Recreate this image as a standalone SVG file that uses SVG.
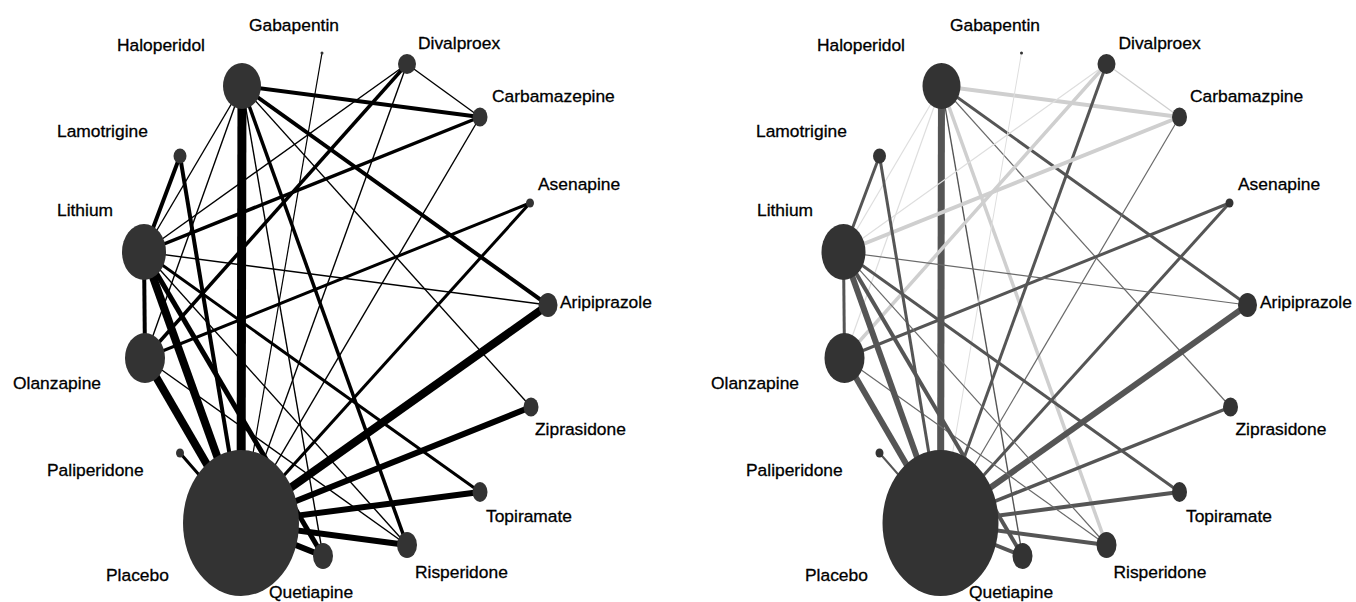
<svg xmlns="http://www.w3.org/2000/svg" width="1356" height="602" viewBox="0 0 1356 602">
<style>
.n{fill:#333}
.e line{stroke-linecap:butt}
.t{font-family:"Liberation Sans",Arial,sans-serif;font-size:17.4px;fill:#000;stroke:#000;stroke-width:0.3}
.L line{stroke:#000}
.k1{stroke:#555}
.k2{stroke:#6a6a6a}
.k3{stroke:#cfcfcf}
.k4{stroke:#dedede}
</style>
<rect width="1356" height="602" fill="#fff"/>
<!-- LEFT PANEL -->
<g id="left-connectors" class="e L">
<line x1="242" y1="86" x2="241" y2="523" stroke-width="9"/>
<line x1="242" y1="86" x2="480" y2="117" stroke-width="4"/>
<line x1="242" y1="86" x2="548" y2="305" stroke-width="4"/>
<line x1="242" y1="86" x2="531" y2="407" stroke-width="1.4"/>
<line x1="242" y1="86" x2="407" y2="545" stroke-width="3.5"/>
<line x1="242" y1="86" x2="323" y2="556" stroke-width="1.4"/>
<line x1="242" y1="86" x2="144" y2="252" stroke-width="1.4"/>
<line x1="242" y1="86" x2="145" y2="358" stroke-width="1.4"/>
<line x1="322" y1="53" x2="241" y2="523" stroke-width="1.2"/>
<line x1="407" y1="64" x2="480" y2="117" stroke-width="1.4"/>
<line x1="407" y1="64" x2="144" y2="252" stroke-width="1.4"/>
<line x1="407" y1="64" x2="145" y2="358" stroke-width="3.5"/>
<line x1="407" y1="64" x2="241" y2="523" stroke-width="1.4"/>
<line x1="480" y1="117" x2="144" y2="252" stroke-width="3.5"/>
<line x1="480" y1="117" x2="241" y2="523" stroke-width="1.4"/>
<line x1="530" y1="203" x2="145" y2="358" stroke-width="3"/>
<line x1="530" y1="203" x2="241" y2="523" stroke-width="3"/>
<line x1="548" y1="305" x2="144" y2="252" stroke-width="1.4"/>
<line x1="548" y1="305" x2="241" y2="523" stroke-width="8"/>
<line x1="531" y1="407" x2="241" y2="523" stroke-width="6"/>
<line x1="480" y1="492" x2="144" y2="252" stroke-width="3"/>
<line x1="480" y1="492" x2="241" y2="523" stroke-width="6"/>
<line x1="407" y1="545" x2="241" y2="523" stroke-width="6"/>
<line x1="407" y1="545" x2="144" y2="252" stroke-width="1.4"/>
<line x1="407" y1="545" x2="145" y2="358" stroke-width="1.4"/>
<line x1="323" y1="556" x2="241" y2="523" stroke-width="6"/>
<line x1="323" y1="556" x2="144" y2="252" stroke-width="5"/>
<line x1="180" y1="453" x2="241" y2="523" stroke-width="3"/>
<line x1="145" y1="358" x2="241" y2="523" stroke-width="8"/>
<line x1="144" y1="252" x2="241" y2="523" stroke-width="8"/>
<line x1="144" y1="252" x2="145" y2="358" stroke-width="4"/>
<line x1="180" y1="156" x2="144" y2="252" stroke-width="4"/>
<line x1="180" y1="156" x2="241" y2="523" stroke-width="4"/>
</g>
<g id="L-haloperidol"><ellipse class="n" cx="242" cy="86" rx="19" ry="23"/><text class="t" x="117" y="51">Haloperidol</text></g>
<g id="L-gabapentin"><circle class="n" cx="322" cy="53" r="1.5"/><text class="t" x="249" y="31">Gabapentin</text></g>
<g id="L-divalproex"><ellipse class="n" cx="407" cy="64" rx="9" ry="10"/><text class="t" x="418" y="49">Divalproex</text></g>
<g id="L-carbamazepine"><ellipse class="n" cx="480" cy="117" rx="7.5" ry="9.5"/><text class="t" x="492" y="102">Carbamazepine</text></g>
<g id="L-asenapine"><ellipse class="n" cx="530" cy="203" rx="4" ry="4.5"/><text class="t" x="538" y="190">Asenapine</text></g>
<g id="L-aripiprazole"><ellipse class="n" cx="548" cy="305" rx="9.5" ry="12"/><text class="t" x="560" y="308">Aripiprazole</text></g>
<g id="L-ziprasidone"><ellipse class="n" cx="531" cy="407" rx="7.5" ry="9.5"/><text class="t" x="535" y="435">Ziprasidone</text></g>
<g id="L-topiramate"><ellipse class="n" cx="480" cy="492" rx="7.5" ry="10"/><text class="t" x="486" y="522">Topiramate</text></g>
<g id="L-risperidone"><ellipse class="n" cx="407" cy="545" rx="10" ry="13"/><text class="t" x="415" y="578">Risperidone</text></g>
<g id="L-quetiapine"><ellipse class="n" cx="323" cy="556" rx="10" ry="13"/><text class="t" x="269" y="598">Quetiapine</text></g>
<g id="L-placebo"><ellipse class="n" cx="241" cy="523" rx="58" ry="73"/><text class="t" x="106" y="581">Placebo</text></g>
<g id="L-paliperidone"><ellipse class="n" cx="180" cy="453" rx="4" ry="4.5"/><text class="t" x="47" y="476">Paliperidone</text></g>
<g id="L-olanzapine"><ellipse class="n" cx="145" cy="358" rx="20" ry="25"/><text class="t" x="13" y="389">Olanzapine</text></g>
<g id="L-lithium"><ellipse class="n" cx="144" cy="252" rx="22" ry="28"/><text class="t" x="57" y="216">Lithium</text></g>
<g id="L-lamotrigine"><ellipse class="n" cx="180" cy="156" rx="6.5" ry="7.5"/><text class="t" x="57" y="137">Lamotrigine</text></g>
<!-- RIGHT PANEL -->
<g transform="translate(699.5,0)">
<g id="right-connectors" class="e">
<line class="k1" x1="242" y1="86" x2="241" y2="523" stroke-width="7"/>
<line class="k3" x1="242" y1="86" x2="480" y2="117" stroke-width="4"/>
<line class="k1" x1="242" y1="86" x2="548" y2="305" stroke-width="3"/>
<line class="k2" x1="242" y1="86" x2="531" y2="407" stroke-width="1.2"/>
<line class="k3" x1="242" y1="86" x2="407" y2="545" stroke-width="3.5"/>
<line class="k1" x1="242" y1="86" x2="323" y2="556" stroke-width="1.4"/>
<line class="k4" x1="242" y1="86" x2="144" y2="252" stroke-width="1.2"/>
<line class="k4" x1="242" y1="86" x2="145" y2="358" stroke-width="1.2"/>
<line class="k4" x1="322" y1="53" x2="241" y2="523" stroke-width="1"/>
<line class="k3" x1="407" y1="64" x2="480" y2="117" stroke-width="1.2"/>
<line class="k4" x1="407" y1="64" x2="144" y2="252" stroke-width="1.2"/>
<line class="k3" x1="407" y1="64" x2="145" y2="358" stroke-width="3.5"/>
<line class="k1" x1="407" y1="64" x2="241" y2="523" stroke-width="3"/>
<line class="k3" x1="480" y1="117" x2="144" y2="252" stroke-width="4"/>
<line class="k2" x1="480" y1="117" x2="241" y2="523" stroke-width="1.2"/>
<line class="k1" x1="530" y1="203" x2="145" y2="358" stroke-width="3"/>
<line class="k1" x1="530" y1="203" x2="241" y2="523" stroke-width="3"/>
<line class="k2" x1="548" y1="305" x2="144" y2="252" stroke-width="1.2"/>
<line class="k1" x1="548" y1="305" x2="241" y2="523" stroke-width="6"/>
<line class="k1" x1="531" y1="407" x2="241" y2="523" stroke-width="3.5"/>
<line class="k1" x1="480" y1="492" x2="144" y2="252" stroke-width="3"/>
<line class="k1" x1="480" y1="492" x2="241" y2="523" stroke-width="4"/>
<line class="k1" x1="407" y1="545" x2="241" y2="523" stroke-width="4"/>
<line class="k2" x1="407" y1="545" x2="144" y2="252" stroke-width="1.2"/>
<line class="k2" x1="407" y1="545" x2="145" y2="358" stroke-width="1.2"/>
<line class="k1" x1="323" y1="556" x2="241" y2="523" stroke-width="4"/>
<line class="k1" x1="323" y1="556" x2="144" y2="252" stroke-width="4"/>
<line class="k1" x1="180" y1="453" x2="241" y2="523" stroke-width="2"/>
<line class="k1" x1="145" y1="358" x2="241" y2="523" stroke-width="6"/>
<line class="k1" x1="144" y1="252" x2="241" y2="523" stroke-width="6"/>
<line class="k1" x1="144" y1="252" x2="145" y2="358" stroke-width="3"/>
<line class="k1" x1="180" y1="156" x2="144" y2="252" stroke-width="3"/>
<line class="k1" x1="180" y1="156" x2="241" y2="523" stroke-width="3"/>
</g>
<g id="R-haloperidol"><ellipse class="n" cx="242" cy="86" rx="19" ry="23"/><text class="t" x="117.5" y="51">Haloperidol</text></g>
<g id="R-gabapentin"><circle class="n" cx="322" cy="53" r="1.5"/><text class="t" x="250.5" y="31">Gabapentin</text></g>
<g id="R-divalproex"><ellipse class="n" cx="407" cy="64" rx="9" ry="10"/><text class="t" x="419" y="49">Divalproex</text></g>
<g id="R-carbamazpine"><ellipse class="n" cx="480" cy="117" rx="7.5" ry="9.5"/><text class="t" x="490.5" y="102">Carbamazpine</text></g>
<g id="R-asenapine"><ellipse class="n" cx="530" cy="203" rx="4" ry="4.5"/><text class="t" x="538.5" y="190">Asenapine</text></g>
<g id="R-aripiprazole"><ellipse class="n" cx="548" cy="305" rx="9.5" ry="12"/><text class="t" x="560.5" y="308">Aripiprazole</text></g>
<g id="R-ziprasidone"><ellipse class="n" cx="531" cy="407" rx="7.5" ry="9.5"/><text class="t" x="536" y="435">Ziprasidone</text></g>
<g id="R-topiramate"><ellipse class="n" cx="480" cy="492" rx="7.5" ry="10"/><text class="t" x="486.5" y="522">Topiramate</text></g>
<g id="R-risperidone"><ellipse class="n" cx="407" cy="545" rx="10" ry="13"/><text class="t" x="414" y="578">Risperidone</text></g>
<g id="R-quetiapine"><ellipse class="n" cx="323" cy="556" rx="10" ry="13"/><text class="t" x="269.5" y="598">Quetiapine</text></g>
<g id="R-placebo"><ellipse class="n" cx="241" cy="523" rx="58" ry="73"/><text class="t" x="105.5" y="581">Placebo</text></g>
<g id="R-paliperidone"><ellipse class="n" cx="180" cy="453" rx="4" ry="4.5"/><text class="t" x="46.5" y="476">Paliperidone</text></g>
<g id="R-olanzapine"><ellipse class="n" cx="145" cy="358" rx="20" ry="25"/><text class="t" x="11.5" y="389">Olanzapine</text></g>
<g id="R-lithium"><ellipse class="n" cx="144" cy="252" rx="22" ry="28"/><text class="t" x="57.5" y="216">Lithium</text></g>
<g id="R-lamotrigine"><ellipse class="n" cx="180" cy="156" rx="6.5" ry="7.5"/><text class="t" x="56.5" y="137">Lamotrigine</text></g>
</g>
</svg>
